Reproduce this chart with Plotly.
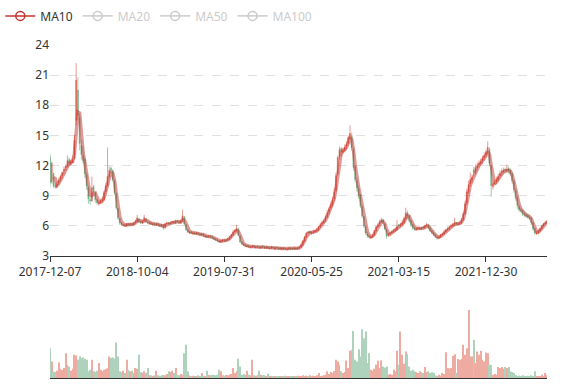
import plotly.graph_objects as go
import pandas as pd

# ---- data (each candle ~ 4 sessions) ----
tick_labels = ["2017-12-07", "2018-10-04", "2019-07-31", "2020-05-25", "2021-03-15", "2021-12-30"]
tick_index = [0, 50, 100, 150, 200, 250]

opens = [
    12.8, 10.4, 11.2, 10.0, 9.9, 10.3, 10.6, 11.0, 11.5, 11.8,
    11.9, 12.6, 12.1, 12.3, 12.7, 16.5, 19.5, 16.8, 14.0, 13.0,
    12.6, 11.1, 9.8, 8.6, 8.5, 9.9, 9.3, 8.6, 8.2, 8.3,
    8.5, 8.6, 9.4, 10.0, 10.9, 11.7, 11.5, 10.5, 9.2, 7.7,
    6.7, 6.3, 6.0, 6.1, 6.0, 6.2, 6.1, 6.2, 6.1, 6.3,
    6.4, 6.7, 6.4, 6.3, 6.5, 6.7, 6.4, 6.2, 6.3, 6.1,
    6.2, 6.1, 6.2, 6.1, 6.0, 6.1, 5.8, 6.2, 6.3, 6.2,
    6.3, 6.4, 6.3, 6.5, 6.4, 6.3, 6.5, 6.9, 6.1, 5.6,
    5.3, 5.4, 5.2, 5.3, 5.2, 5.3, 5.2, 5.1, 5.2, 4.9,
    5.0, 4.9, 5.0, 4.9, 4.8, 4.7, 4.6, 4.5, 4.4, 4.5,
    4.6, 4.5, 4.6, 4.7, 4.9, 5.1, 5.4, 5.5, 5.7, 5.0,
    4.4, 4.2, 4.1, 3.9, 4.0, 3.8, 3.9, 4.0, 3.8, 4.0,
    3.9, 3.8, 4.0, 3.9, 3.8, 3.9, 3.7, 3.8, 3.9, 3.7,
    3.9, 3.8, 3.7, 3.8, 3.7, 3.8, 3.6, 3.7, 3.8, 3.8,
    3.7, 3.8, 3.7, 3.8, 3.9, 4.1, 4.5, 4.9, 5.4, 5.3,
    5.4, 5.3, 5.4, 5.5, 5.6, 5.9, 6.2, 6.3, 6.6, 6.9,
    7.4, 7.8, 8.1, 8.7, 9.5, 11.2, 12.9, 13.7, 13.3, 13.5,
    13.9, 14.2, 14.7, 15.0, 13.6, 11.9, 10.5, 9.7, 9.1, 7.9,
    6.9, 5.9, 5.2, 5.0, 4.8, 4.9, 5.1, 5.5, 5.9, 6.2,
    6.4, 6.6, 6.2, 5.6, 5.0, 5.2, 5.3, 5.4, 5.5, 5.6,
    6.1, 6.0, 6.1, 6.3, 6.7, 7.3, 7.0, 6.5, 6.1, 5.8,
    5.6, 5.7, 5.8, 5.7, 5.9, 5.8, 6.0, 6.1, 5.8, 5.5,
    5.3, 5.1, 4.9, 4.8, 4.9, 5.1, 5.2, 5.4, 5.6, 5.7,
    5.9, 6.0, 6.1, 6.3, 6.1, 6.2, 6.3, 6.6, 7.2, 8.3,
    9.4, 10.2, 10.6, 11.6, 11.3, 11.8, 12.1, 12.2, 12.5, 12.8,
    13.1, 13.3, 13.6, 12.0, 9.9, 10.2, 10.4, 10.6, 11.0, 11.3,
    11.4, 11.6, 11.5, 11.7, 11.5, 11.2, 10.4, 9.5, 8.8, 7.9,
    7.6, 7.5, 7.2, 7.1, 7.0, 6.9, 6.8, 6.3, 5.7, 5.2,
    5.3, 5.5, 5.7, 6.0, 6.2, 6.3,
]
closes = [
    10.3, 12.2, 10.0, 9.9, 10.2, 10.5, 10.9, 11.3, 11.6, 11.9,
    12.5, 12.2, 12.4, 12.6, 14.5, 20.5, 17.0, 14.2, 13.1, 12.5,
    11.2, 10.0, 8.7, 8.5, 9.8, 9.4, 8.6, 8.3, 8.3, 8.5,
    8.6, 9.3, 10.0, 10.9, 11.5, 11.6, 10.6, 9.3, 7.8, 6.8,
    6.3, 6.1, 6.1, 6.0, 6.2, 6.1, 6.2, 6.1, 6.3, 6.4,
    6.8, 6.4, 6.3, 6.5, 6.8, 6.4, 6.3, 6.3, 6.2, 6.2,
    6.1, 6.2, 6.1, 6.0, 6.1, 5.8, 6.2, 6.3, 6.2, 6.3,
    6.4, 6.3, 6.5, 6.4, 6.3, 6.5, 7.0, 6.2, 5.6, 5.4,
    5.4, 5.3, 5.3, 5.2, 5.3, 5.2, 5.1, 5.2, 5.0, 5.0,
    4.9, 5.0, 4.9, 4.8, 4.7, 4.6, 4.5, 4.4, 4.5, 4.6,
    4.5, 4.6, 4.7, 4.9, 5.1, 5.4, 5.5, 5.7, 5.1, 4.4,
    4.2, 4.1, 4.0, 4.0, 3.9, 3.9, 4.0, 3.9, 3.9, 3.9,
    3.8, 3.9, 3.9, 3.8, 3.9, 3.8, 3.8, 3.9, 3.8, 3.8,
    3.8, 3.7, 3.8, 3.7, 3.8, 3.7, 3.7, 3.8, 3.7, 3.7,
    3.8, 3.7, 3.8, 3.9, 4.1, 4.5, 4.9, 5.3, 5.3, 5.4,
    5.3, 5.4, 5.5, 5.6, 5.9, 6.1, 6.3, 6.5, 6.9, 7.3,
    7.7, 8.1, 8.6, 9.4, 11.0, 12.8, 13.6, 13.4, 13.5, 13.8,
    14.1, 14.8, 15.2, 13.8, 11.8, 10.6, 9.8, 9.0, 8.0, 7.0,
    6.0, 5.3, 5.0, 4.9, 4.9, 5.1, 5.5, 5.9, 6.1, 6.4,
    6.6, 6.3, 5.7, 5.0, 5.2, 5.3, 5.4, 5.5, 5.6, 5.9,
    6.0, 6.1, 6.3, 6.7, 7.3, 7.0, 6.5, 6.1, 5.8, 5.7,
    5.7, 5.8, 5.7, 5.8, 5.8, 6.0, 6.1, 5.8, 5.5, 5.3,
    5.1, 4.9, 4.8, 4.9, 5.1, 5.2, 5.4, 5.6, 5.7, 5.9,
    6.0, 6.1, 6.3, 6.2, 6.2, 6.3, 6.6, 7.2, 8.2, 9.4,
    10.1, 10.6, 10.8, 11.3, 11.8, 12.0, 12.2, 12.4, 12.7, 13.0,
    13.3, 13.8, 12.2, 10.0, 10.2, 10.3, 10.6, 10.9, 11.2, 11.4,
    11.5, 11.5, 11.6, 11.5, 11.2, 10.5, 9.6, 8.8, 8.0, 7.6,
    7.5, 7.2, 7.1, 7.0, 6.9, 6.8, 6.3, 5.7, 5.3, 5.3,
    5.5, 5.7, 6.0, 6.2, 6.3, 6.5,
]
highs = [
    13.2, 12.4, 11.3, 10.3, 10.4, 10.8, 11.1, 11.4, 11.9, 12.1,
    13.0, 12.8, 12.6, 12.9, 15.0, 22.2, 20.8, 17.2, 14.6, 13.9,
    12.8, 11.3, 10.0, 8.9, 10.9, 10.1, 9.4, 8.7, 8.5, 8.7,
    8.9, 9.5, 10.3, 13.8, 11.9, 11.9, 11.6, 10.6, 9.3, 7.8,
    6.8, 6.4, 6.2, 6.2, 6.3, 6.3, 6.3, 6.3, 6.4, 6.6,
    7.1, 6.8, 6.5, 6.6, 7.1, 6.8, 6.5, 6.4, 6.4, 6.3,
    6.3, 6.3, 6.3, 6.2, 6.2, 6.2, 6.3, 6.4, 6.4, 6.4,
    6.5, 6.5, 6.6, 6.6, 6.5, 6.6, 7.6, 7.0, 6.2, 5.7,
    5.5, 5.5, 5.4, 5.4, 5.4, 5.4, 5.3, 5.3, 5.3, 5.1,
    5.1, 5.1, 5.1, 5.0, 4.9, 4.8, 4.7, 4.6, 4.6, 4.7,
    4.7, 4.7, 4.8, 5.0, 5.2, 5.6, 5.7, 6.1, 5.8, 5.1,
    4.5, 4.3, 4.2, 4.1, 4.1, 4.0, 4.1, 4.1, 4.0, 4.0,
    4.0, 4.0, 4.1, 4.0, 4.0, 4.0, 3.9, 4.0, 3.9, 3.9,
    3.9, 3.9, 3.9, 3.9, 3.9, 3.8, 3.8, 3.9, 3.9, 3.8,
    3.9, 3.9, 3.9, 4.0, 4.2, 4.6, 5.0, 5.4, 5.5, 5.5,
    5.5, 5.6, 5.6, 5.8, 6.0, 6.3, 6.5, 6.7, 7.1, 7.6,
    7.9, 8.4, 8.9, 9.8, 11.3, 13.0, 13.9, 13.8, 13.8, 14.1,
    14.4, 15.0, 16.0, 15.3, 13.8, 12.1, 10.8, 10.0, 9.2, 8.1,
    7.0, 6.1, 5.4, 5.1, 5.0, 5.2, 5.6, 6.0, 6.3, 6.6,
    6.8, 6.7, 6.3, 5.7, 5.3, 5.4, 5.5, 5.7, 5.8, 6.6,
    6.2, 6.3, 6.6, 6.9, 7.8, 7.5, 7.1, 6.6, 6.2, 5.9,
    5.9, 5.9, 5.9, 5.9, 6.0, 6.1, 6.3, 6.2, 5.9, 5.6,
    5.4, 5.2, 5.0, 5.0, 5.2, 5.3, 5.6, 5.7, 5.9, 6.0,
    6.2, 6.3, 6.8, 6.4, 6.4, 6.5, 6.8, 7.4, 8.5, 9.7,
    10.5, 11.3, 11.1, 11.9, 12.1, 12.3, 12.5, 12.7, 13.0, 13.3,
    13.6, 14.4, 13.8, 12.1, 10.5, 10.6, 10.9, 11.2, 11.5, 11.7,
    11.8, 11.8, 12.1, 11.9, 11.7, 11.3, 10.6, 9.7, 9.0, 8.1,
    7.8, 7.6, 7.4, 7.3, 7.2, 7.1, 6.9, 6.4, 5.8, 5.5,
    5.6, 5.8, 6.1, 6.3, 6.5, 6.6,
]
lows = [
    9.8, 10.2, 9.8, 9.7, 9.8, 10.1, 10.4, 10.7, 11.1, 11.5,
    11.8, 12.0, 12.0, 12.2, 12.6, 16.0, 16.5, 13.5, 12.6, 12.2,
    10.8, 9.6, 8.2, 8.1, 8.4, 9.1, 8.3, 8.1, 8.0, 8.2,
    8.3, 8.5, 9.2, 9.9, 10.7, 11.2, 10.4, 9.1, 7.6, 6.6,
    6.1, 6.0, 6.0, 5.9, 5.9, 6.0, 6.0, 6.0, 6.0, 6.2,
    6.3, 6.3, 6.2, 6.2, 6.4, 6.3, 6.2, 6.1, 6.1, 6.0,
    6.0, 6.0, 6.0, 5.9, 5.9, 5.6, 5.7, 6.1, 6.1, 6.1,
    6.2, 6.2, 6.2, 6.3, 6.2, 6.2, 6.4, 6.0, 5.5, 5.3,
    5.2, 5.2, 5.1, 5.1, 5.1, 5.1, 5.0, 5.0, 4.9, 4.8,
    4.8, 4.8, 4.8, 4.7, 4.6, 4.5, 4.4, 4.3, 4.3, 4.4,
    4.4, 4.4, 4.5, 4.6, 4.8, 5.0, 5.3, 5.4, 5.0, 4.3,
    4.1, 4.0, 3.9, 3.9, 3.8, 3.8, 3.8, 3.8, 3.8, 3.8,
    3.7, 3.7, 3.8, 3.7, 3.7, 3.7, 3.7, 3.7, 3.7, 3.6,
    3.7, 3.6, 3.6, 3.6, 3.6, 3.6, 3.6, 3.6, 3.6, 3.6,
    3.6, 3.6, 3.6, 3.7, 3.8, 4.0, 4.4, 4.8, 5.2, 5.2,
    5.1, 5.2, 5.3, 5.4, 5.5, 5.8, 6.0, 6.2, 6.4, 6.8,
    7.1, 7.6, 7.9, 8.5, 9.4, 11.0, 12.6, 12.9, 13.1, 13.3,
    13.6, 14.0, 14.5, 13.5, 11.5, 10.3, 9.4, 8.7, 7.8, 6.8,
    5.8, 5.1, 4.8, 4.7, 4.7, 4.8, 5.0, 5.4, 5.8, 6.0,
    6.3, 6.2, 5.6, 4.7, 4.9, 5.1, 5.2, 5.3, 5.4, 5.5,
    5.8, 5.9, 6.0, 6.2, 6.6, 6.8, 6.3, 5.9, 5.6, 5.5,
    5.5, 5.6, 5.6, 5.6, 5.7, 5.7, 5.9, 5.7, 5.4, 5.2,
    5.0, 4.8, 4.6, 4.7, 4.8, 5.0, 5.1, 5.3, 5.5, 5.6,
    5.8, 5.9, 6.0, 6.0, 6.0, 6.1, 6.2, 6.5, 7.1, 8.1,
    9.2, 9.9, 10.3, 10.9, 11.1, 11.5, 11.8, 12.0, 12.2, 12.5,
    12.8, 13.1, 12.0, 8.9, 9.6, 10.0, 10.2, 10.4, 10.8, 11.0,
    11.2, 11.2, 11.3, 11.2, 11.0, 10.2, 9.3, 8.5, 7.7, 7.4,
    7.3, 7.0, 6.9, 6.8, 6.7, 6.6, 6.1, 5.5, 5.1, 5.1,
    5.2, 5.4, 5.6, 5.9, 6.1, 6.2,
]
volumes = [
    90, 50, 20, 18, 22, 47, 28, 25, 30, 75,
    40, 35, 22, 28, 70, 68, 55, 65, 60, 62,
    58, 55, 20, 25, 55, 20, 18, 22, 45, 25,
    20, 25, 28, 30, 65, 60, 62, 58, 107, 65,
    20, 18, 22, 15, 55, 25, 20, 22, 15, 30,
    28, 70, 18, 15, 20, 16, 30, 8, 8, 7,
    8, 22, 8, 7, 8, 9, 8, 12, 20, 18,
    22, 15, 30, 10, 8, 12, 10, 75, 100, 20,
    8, 6, 7, 5, 6, 8, 5, 15, 7, 6,
    22, 9, 8, 10, 9, 8, 10, 25, 20, 8,
    7, 9, 8, 10, 12, 30, 15, 20, 58, 35,
    10, 12, 9, 22, 10, 8, 55, 8, 7, 9,
    22, 10, 8, 9, 6, 13, 5, 6, 5, 4,
    5, 6, 5, 4, 5, 7, 5, 6, 4, 5,
    6, 5, 7, 6, 5, 8, 6, 7, 5, 8,
    6, 7, 5, 8, 15, 6, 7, 8, 10, 20,
    12, 18, 15, 20, 55, 50, 40, 20, 15, 18,
    53, 30, 82, 85, 142, 55, 50, 87, 65, 147,
    120, 140, 45, 75, 25, 22, 28, 40, 52, 30,
    53, 35, 32, 35, 10, 12, 10, 25, 20, 82,
    40, 140, 70, 43, 80, 72, 35, 22, 25, 20,
    18, 15, 20, 17, 15, 33, 18, 20, 15, 17,
    16, 8, 6, 10, 7, 15, 12, 78, 30, 28,
    30, 67, 72, 15, 57, 55, 58, 100, 70, 90,
    205, 65, 65, 115, 45, 80, 70, 82, 55, 50,
    77, 75, 40, 40, 10, 12, 10, 33, 30, 33,
    28, 33, 30, 33, 20, 18, 15, 8, 6, 7,
    5, 8, 6, 5, 7, 6, 8, 5, 20, 5,
    4, 6, 10, 5, 15, 8,
]
ma_windows = {"MA10": 3, "MA20": 5, "MA50": 12, "MA100": 25}  # in candles (~4 sessions each)

UP = "#dc5a45"
DOWN = "#5fa77a"
FONT = "Noto Sans"

n = len(closes)
x = list(range(n))
close_s = pd.Series(closes)

fig = go.Figure()
fig.add_trace(go.Candlestick(
    x=x, open=opens, high=highs, low=lows, close=closes,
    increasing=dict(line=dict(color=UP, width=0.6), fillcolor=UP),
    decreasing=dict(line=dict(color=DOWN, width=0.6), fillcolor=DOWN),
    whiskerwidth=0, showlegend=False, hoverinfo="skip",
    xaxis="x", yaxis="y",
))
ma10 = close_s.rolling(ma_windows["MA10"]).mean()
fig.add_trace(go.Scatter(
    x=x, y=ma10, mode="lines", line=dict(color="#c23531", width=3.5),
    opacity=0.5, showlegend=False, hoverinfo="skip", xaxis="x", yaxis="y",
))
# legend entries
fig.add_trace(go.Scatter(
    x=[None], y=[None], mode="lines+markers", name="MA10",
    line=dict(color="#c23531", width=1.5),
    marker=dict(symbol="circle-open", size=9, color="#c23531", line=dict(width=1.5)),
    xaxis="x", yaxis="y",
))
for name in ["MA20", "MA50", "MA100"]:
    ma = close_s.rolling(ma_windows[name]).mean()
    fig.add_trace(go.Scatter(
        x=x, y=ma, mode="lines+markers", visible="legendonly",
        name=f"<span style='color:#999999'>{name}</span>",
        line=dict(color="#999999", width=1.5),
        marker=dict(symbol="circle-open", size=9, color="#999999", line=dict(width=1.5)),
        xaxis="x", yaxis="y",
    ))

vol_colors = [UP if c >= o else DOWN for o, c in zip(opens, closes)]
fig.add_trace(go.Bar(
    x=x, y=volumes, marker=dict(color=vol_colors, line=dict(width=0)),
    opacity=0.5, width=0.6, showlegend=False, hoverinfo="skip",
    xaxis="x2", yaxis="y2",
))

fig.update_layout(
    width=577, height=386,
    margin=dict(l=50, r=30, t=45, b=8, autoexpand=False),
    paper_bgcolor="white", plot_bgcolor="white",
    font=dict(family=FONT, size=12, color="#333333"),
    showlegend=True,
    legend=dict(
        orientation="h", x=-0.1, xanchor="left", y=1.131, yanchor="top",
        font=dict(family=FONT, size=12, color="#333333"),
        itemclick=False, itemdoubleclick=False,
        traceorder="normal",
        bgcolor="rgba(0,0,0,0)",
    ),
    xaxis=dict(
        domain=[0, 1], anchor="y", range=[0, n - 1],
        tickmode="array", tickvals=tick_index, ticktext=tick_labels,
        ticks="outside", ticklen=5, tickcolor="#333333",
        showline=True, linecolor="#333333", linewidth=1,
        showgrid=False, zeroline=False, rangeslider=dict(visible=False),
        tickfont=dict(size=12, color="#333333"),
    ),
    yaxis=dict(
        domain=[0.3664, 1], anchor="x", range=[3, 24],
        tickmode="linear", tick0=3, dtick=3,
        showgrid=True, gridcolor="#e0e0e0", griddash="dash", gridwidth=1,
        showline=False, zeroline=False, ticks="",
        tickfont=dict(size=12, color="#333333"),
    ),
    xaxis2=dict(
        domain=[0, 1], anchor="y2", matches="x", range=[0, n - 1],
        showticklabels=False, ticks="", showline=True, linecolor="#333333",
        linewidth=1, showgrid=False, zeroline=False,
        rangeslider=dict(visible=False),
    ),
    yaxis2=dict(
        domain=[0, 0.234], anchor="x2", range=[0, 235],
        visible=False, showgrid=False, zeroline=False,
    ),
)

fig.write_html(
    "out.html",
    config={"displayModeBar": False},
    post_script="document.body.style.margin='0px';",
)
